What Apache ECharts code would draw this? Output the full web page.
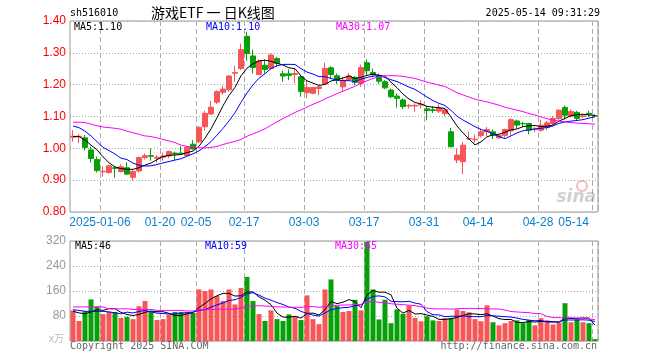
<!DOCTYPE html>
<html><head><meta charset="utf-8">
<script src="https://cdn.jsdelivr.net/npm/echarts@6/dist/echarts.min.js"></script>
<style>html,body{margin:0;padding:0;background:#fff}#c{width:660px;height:360px}</style>
</head><body><div id="c"></div>
<script>
const dates = ['2024-12-27','2024-12-30','2024-12-31','2025-01-02','2025-01-03','2025-01-06','2025-01-07','2025-01-08','2025-01-09','2025-01-10','2025-01-13','2025-01-14','2025-01-15','2025-01-16','2025-01-17','2025-01-20','2025-01-21','2025-01-22','2025-01-23','2025-01-24','2025-01-27','2025-02-05','2025-02-06','2025-02-07','2025-02-10','2025-02-11','2025-02-12','2025-02-13','2025-02-14','2025-02-17','2025-02-18','2025-02-19','2025-02-20','2025-02-21','2025-02-24','2025-02-25','2025-02-26','2025-02-27','2025-02-28','2025-03-03','2025-03-04','2025-03-05','2025-03-06','2025-03-07','2025-03-10','2025-03-11','2025-03-12','2025-03-13','2025-03-14','2025-03-17','2025-03-18','2025-03-19','2025-03-20','2025-03-21','2025-03-24','2025-03-25','2025-03-26','2025-03-27','2025-03-28','2025-03-31','2025-04-01','2025-04-02','2025-04-03','2025-04-07','2025-04-08','2025-04-09','2025-04-10','2025-04-11','2025-04-14','2025-04-15','2025-04-16','2025-04-17','2025-04-18','2025-04-21','2025-04-22','2025-04-23','2025-04-24','2025-04-25','2025-04-28','2025-04-29','2025-04-30','2025-05-06','2025-05-07','2025-05-08','2025-05-09','2025-05-12','2025-05-13','2025-05-14'];
const opens = [1.035,1.036,1.033,0.995,0.965,0.926,0.924,0.939,0.927,0.939,0.909,0.929,0.971,0.977,0.969,0.972,0.976,0.985,0.985,0.977,1.013,1.021,1.068,1.108,1.145,1.176,1.184,1.236,1.251,1.352,1.290,1.232,1.261,1.251,1.282,1.234,1.234,1.232,1.225,1.175,1.173,1.188,1.202,1.253,1.228,1.193,1.216,1.223,1.204,1.269,1.238,1.228,1.209,1.183,1.164,1.152,1.133,1.133,1.136,1.124,1.121,1.117,1.109,1.052,0.963,0.958,1.029,1.027,1.040,1.052,1.052,1.033,1.041,1.055,1.086,1.078,1.078,1.059,1.057,1.065,1.078,1.094,1.128,1.101,1.113,1.100,1.110,1.103];
const closes = [1.038,1.038,1.003,0.968,0.930,0.928,0.945,0.937,0.942,0.919,0.927,0.971,0.977,0.975,0.972,0.976,0.990,0.982,0.983,1.003,0.998,1.066,1.110,1.129,1.178,1.186,1.227,1.238,1.310,1.298,1.254,1.274,1.248,1.293,1.267,1.227,1.229,1.235,1.178,1.191,1.191,1.193,1.251,1.232,1.214,1.214,1.227,1.207,1.254,1.244,1.232,1.211,1.190,1.162,1.157,1.131,1.135,1.135,1.139,1.119,1.119,1.127,1.121,1.005,0.979,1.010,1.031,1.029,1.052,1.059,1.041,1.041,1.059,1.090,1.073,1.077,1.057,1.061,1.073,1.080,1.094,1.120,1.104,1.116,1.094,1.102,1.107,1.101];
const lows = [1.021,1.016,0.993,0.955,0.924,0.911,0.920,0.908,0.924,0.916,0.899,0.924,0.965,0.961,0.955,0.961,0.969,0.963,0.979,0.974,0.995,1.016,1.055,1.105,1.139,1.168,1.178,1.209,1.246,1.275,1.235,1.230,1.235,1.248,1.256,1.209,1.214,1.204,1.162,1.157,1.170,1.167,1.199,1.220,1.202,1.178,1.212,1.199,1.193,1.230,1.225,1.202,1.186,1.157,1.128,1.123,1.125,1.115,1.125,1.088,1.111,1.111,1.101,1.003,0.953,0.919,1.026,1.017,1.034,1.038,1.029,1.031,1.034,1.041,1.062,1.067,1.044,1.050,1.052,1.057,1.073,1.088,1.090,1.097,1.086,1.094,1.099,1.099];
const highs = [1.057,1.045,1.042,1.005,0.974,0.943,0.948,0.945,0.950,0.956,0.932,0.974,0.984,1.000,0.979,0.986,0.993,0.990,1.007,1.007,1.026,1.070,1.118,1.149,1.182,1.197,1.230,1.259,1.329,1.366,1.310,1.279,1.279,1.298,1.287,1.244,1.248,1.251,1.230,1.214,1.193,1.196,1.269,1.258,1.235,1.225,1.237,1.227,1.263,1.279,1.251,1.235,1.214,1.188,1.172,1.157,1.139,1.141,1.151,1.132,1.132,1.138,1.128,1.064,1.000,1.020,1.052,1.044,1.062,1.067,1.059,1.046,1.062,1.094,1.090,1.083,1.080,1.067,1.090,1.086,1.101,1.123,1.135,1.122,1.118,1.107,1.118,1.106];
const volumes = [98,64,95,133,111,86,94,93,74,77,70,111,128,93,67,70,85,93,93,93,90,165,160,165,144,128,165,117,170,205,128,86,64,98,70,64,85,79,67,146,70,54,165,197,112,93,96,132,98,317,165,69,132,57,101,87,113,74,63,79,66,64,73,74,101,96,92,70,63,114,60,50,57,64,66,57,67,50,73,66,53,59,121,60,69,60,57,6];
const ma5Head = [1.037,1.037,1.026,1.010];
const ma10Head = [1.070,1.065,1.054,1.039,1.021,1.003,0.993,0.982,0.969];
const ma30Head = [1.082,1.082,1.081,1.076,1.071,1.067,1.065,1.063,1.060,1.054,1.049,1.044,1.039,1.037,1.033,1.028,1.023,1.018,1.010,1.006,1.004,1.002,1.001,1.003,1.006,1.012,1.017,1.022,1.028];
const volMa5Head = [95,90,87,93];
const volMa10Head = [100,98,95,95,95,95,93,90,87];
const volMa30Head = [109,109,109,109,109,109,103,103,103,103,101,101,101,101,98,98,98,98,98,96,96,100,100,100,102,102,102,102,106];
const tickDates = ['2025-01-06','2025-01-20','2025-02-05','2025-02-17','2025-03-03','2025-03-17','2025-03-31','2025-04-14','2025-04-28','2025-05-14'];
const tickLabels = ['2025-01-06','01-20','02-05','02-17','03-03','03-17','03-31','04-14','04-28','05-14'];
const priceMin = 0.8, priceMax = 1.4, priceStep = 0.1;
const volMin = 0, volMax = 320, volStep = 80;
const legendPrice = ['MA5:1.10','MA10:1.10','MA30:1.07'];
const legendVol = ['MA5:46','MA10:59','MA30:65'];

function ma(src, n, head) {
  return src.map((v, i) => {
    if (i < n - 1) return head[i];
    let s = 0; for (let k = i - n + 1; k <= i; k++) s += src[k];
    return +(s / n).toFixed(4);
  });
}
const MONO = '"DejaVu Sans Mono", monospace';
const up = '#f75656', down = '#08a008';
const kData = opens.map((o, i) => [o, closes[i], lows[i], highs[i]]);
const isTick = (idx, val) => tickDates.indexOf(val) >= 0;
const labelOf = v => tickLabels[tickDates.indexOf(v)];

const chart = echarts.init(document.getElementById('c'), null, {renderer: 'canvas'});
const xBase = {
  type: 'category', data: dates, boundaryGap: true,
  axisLine: {show: false}, axisTick: {show: false},
  splitLine: {show: true, interval: isTick, lineStyle: {color: '#aaa', type: [5, 3], width: 1}}
};
chart.setOption({
  animation: false,
  grid: [
    {left: 70, right: 62, top: 21, height: 191, show: true, borderColor: '#999', borderWidth: 1, backgroundColor: 'transparent'},
    {left: 70, right: 62, top: 241, height: 100, show: true, borderColor: '#999', borderWidth: 1, backgroundColor: 'transparent'}
  ],
  xAxis: [
    Object.assign({}, xBase, {gridIndex: 0, axisLabel: {show: true, interval: isTick, formatter: labelOf, color: '#0a7fd0', font: '10px ' + MONO, margin: 5, padding: [0, 6, 0, 0], alignMaxLabel: 'right', hideOverlap: false}}),
    Object.assign({}, xBase, {gridIndex: 1, axisLabel: {show: false}})
  ],
  yAxis: [
    {gridIndex: 0, type: 'value', min: priceMin, max: priceMax, interval: priceStep, axisLine: {show: false}, axisTick: {show: false},
      axisLabel: {color: '#ff0000', font: '10px ' + MONO, margin: 4, formatter: v => v.toFixed(2)},
      splitLine: {show: true, lineStyle: {color: '#aaa', type: [1, 2]}}},
    {gridIndex: 1, type: 'value', min: volMin, max: volMax, interval: volStep, axisLine: {show: false}, axisTick: {show: false},
      axisLabel: {color: '#999', font: '10px ' + MONO, margin: 4, formatter: v => v === 0 ? '' : String(v)},
      splitLine: {show: true, lineStyle: {color: '#aaa', type: [1, 2]}}}
  ],
  series: [
    {type: 'candlestick', xAxisIndex: 0, yAxisIndex: 0, data: kData, barWidth: 5,
      itemStyle: {color: up, color0: down, borderColor: up, borderColor0: down, borderWidth: 1}},
    {type: 'line', xAxisIndex: 0, yAxisIndex: 0, data: ma(closes, 5, ma5Head), symbol: 'none', lineStyle: {color: '#000', width: 1}},
    {type: 'line', xAxisIndex: 0, yAxisIndex: 0, data: ma(closes, 10, ma10Head), symbol: 'none', lineStyle: {color: '#0000ff', width: 1}},
    {type: 'line', xAxisIndex: 0, yAxisIndex: 0, data: ma(closes, 30, ma30Head), symbol: 'none', lineStyle: {color: '#ff00ff', width: 1}},
    {type: 'bar', xAxisIndex: 1, yAxisIndex: 1, barWidth: 5, data: volumes.map((v, i) => ({value: v, itemStyle: {color: closes[i] >= opens[i] ? up : down}}))},
    {type: 'line', xAxisIndex: 1, yAxisIndex: 1, data: ma(volumes, 5, volMa5Head), symbol: 'none', lineStyle: {color: '#000', width: 1}},
    {type: 'line', xAxisIndex: 1, yAxisIndex: 1, data: ma(volumes, 10, volMa10Head), symbol: 'none', lineStyle: {color: '#0000ff', width: 1}},
    {type: 'line', xAxisIndex: 1, yAxisIndex: 1, data: ma(volumes, 30, volMa30Head), symbol: 'none', lineStyle: {color: '#ff00ff', width: 1}}
  ],
  graphic: [
    {type: 'text', z: 10, style: {x: 70, y: 13, text: 'sh516010', font: '10px ' + MONO, fill: '#000', align: 'left', verticalAlign: 'middle'}},
    {type: 'text', z: 10, style: {x: 151, y: 13, text: '游戏ETF 一 日K线图', font: '14px "Noto Sans CJK SC"', fill: '#000', align: 'left', verticalAlign: 'middle'}},
    {type: 'text', z: 10, style: {x: 600, y: 13, text: '2025-05-14 09:31:29', font: '10px ' + MONO, fill: '#000', align: 'right', verticalAlign: 'middle'}},
    {type: 'text', z: 10, style: {x: 74, y: 27, text: legendPrice[0], font: '10px ' + MONO, fill: '#000', align: 'left', verticalAlign: 'middle'}},
    {type: 'text', z: 10, style: {x: 206, y: 27, text: legendPrice[1], font: '10px ' + MONO, fill: '#0000ff', align: 'left', verticalAlign: 'middle'}},
    {type: 'text', z: 10, style: {x: 336, y: 27, text: legendPrice[2], font: '10px ' + MONO, fill: '#ff00ff', align: 'left', verticalAlign: 'middle'}},
    {type: 'text', z: 10, style: {x: 75, y: 246, text: legendVol[0], font: '10px ' + MONO, fill: '#000', align: 'left', verticalAlign: 'middle'}},
    {type: 'text', z: 10, style: {x: 205, y: 246, text: legendVol[1], font: '10px ' + MONO, fill: '#0000ff', align: 'left', verticalAlign: 'middle'}},
    {type: 'text', z: 10, style: {x: 335, y: 246, text: legendVol[2], font: '10px ' + MONO, fill: '#ff00ff', align: 'left', verticalAlign: 'middle'}},
    {type: 'text', z: 10, style: {x: 64, y: 338, text: 'x万', font: '10px "Noto Sans CJK SC"', fill: '#bbb', align: 'right', verticalAlign: 'middle'}},
    {type: 'text', z: 10, style: {x: 70, y: 346, text: 'Copyright 2025 SINA.COM', font: '10px ' + MONO, fill: '#666', align: 'left', verticalAlign: 'middle'}},
    {type: 'text', z: 10, style: {x: 597, y: 346, text: 'http://finance.sina.com.cn', font: '10px ' + MONO, fill: '#666', align: 'right', verticalAlign: 'middle'}},
    {type: 'text', z: 1, style: {x: 596, y: 198, text: 'sina', font: 'italic bold 17px "DejaVu Sans"', fill: 'rgba(150,150,150,0.45)', align: 'right', verticalAlign: 'middle'}},
    {type: 'circle', z: 1, shape: {cx: 582, cy: 186, r: 5}, style: {fill: 'none', stroke: 'rgba(235,120,120,0.5)', lineWidth: 2}}
  ]
});
</script></body></html>
